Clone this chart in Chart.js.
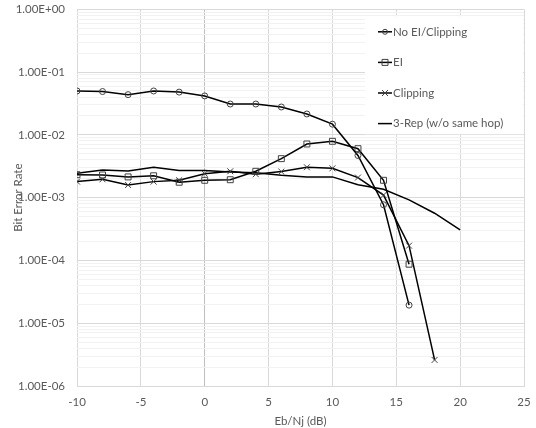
<!DOCTYPE html>
<html><head><meta charset="utf-8">
<script src="https://cdn.jsdelivr.net/npm/chart.js@4/dist/chart.umd.min.js"></script>
<style>html,body{margin:0;padding:0;background:#fff}#wrap{width:536px;height:428px}</style>
</head><body><div id="wrap"><canvas id="c" width="536" height="428"></canvas></div>
<script>
// ---- data ----
const xNoEI = [-10,-8,-6,-4,-2,0,2,4,6,8,10,12,14,16];
const yNoEI = [0.050,0.049,0.0437,0.050,0.048,0.0417,0.031,0.031,0.0278,0.0215,0.0148,0.0047,0.00077,0.0000194];
const xEI = [-10,-8,-6,-4,-2,0,2,4,6,8,10,12,14,16];
const yEI = [0.00232,0.0023,0.00214,0.00223,0.00176,0.00189,0.00193,0.00263,0.00418,0.00716,0.0079,0.00603,0.00189,0.000087];
const xClip = [-10,-8,-6,-4,-2,0,2,4,6,8,10,12,14,16,18];
const yClip = [0.0018,0.00196,0.00159,0.0018,0.00189,0.00241,0.00263,0.00236,0.0026,0.00305,0.00293,0.00209,0.0011,0.000172,0.0000026];
const xRep = [-10,-8,-6,-4,-2,0,2,4,6,8,10,12,14,16,18,20];
const yRep = [0.00245,0.00276,0.00266,0.00305,0.0027,0.0027,0.00257,0.0025,0.00227,0.00214,0.00214,0.00161,0.00136,0.00092,0.000565,0.000306];
const seriesNames = ['No EI/Clipping','EI','Clipping','3-Rep (w/o same hop)'];
const yDecades = [1e-6,1e-5,1e-4,1e-3,1e-2,1e-1,1];
const yTickLabels = ['1.00E-06','1.00E-05','1.00E-04','1.00E-03','1.00E-02','1.00E-01','1.00E+00'];
const xTitle = 'Eb/Nj (dB)';
const yTitle = 'Bit Error Rate';

const FONT = 'Lato';
const FS = 11.5;
const TXT = '#595959';
const pts = (xs, ys) => xs.map((x, i) => ({x, y: ys[i]}));
const isDecade = v => Math.abs(Math.log10(v) - Math.round(Math.log10(v))) < 1e-9;
const noAutoPad = s => { s.paddingTop = 0; s.paddingBottom = 0; s.paddingLeft = 0; s.paddingRight = 0; };

function mkDs(label, data, style, radius) {
  return {
    label, data,
    borderColor: '#000', borderWidth: 1.5, tension: 0,
    pointStyle: style || false, pointRadius: style ? radius : 0,
    pointBorderColor: '#404040', pointBackgroundColor: 'rgba(0,0,0,0)', pointBorderWidth: 1,
    pointHoverRadius: style ? radius : 0
  };
}

const insideLegend = {
  id: 'insideLegend',
  afterDraw(chart) {
    const ctx = chart.ctx, ca = chart.chartArea;
    const bx = ca.right - 159, by = ca.top + 7;
    ctx.save();
    ctx.fillStyle = '#fff';
    ctx.fillRect(bx, by, 158, 118);
    chart.data.datasets.forEach((ds, i) => {
      const y = by + 15.5 + i * 30.6;
      const lx = bx + 13;
      ctx.strokeStyle = '#000'; ctx.lineWidth = 1.5;
      ctx.beginPath(); ctx.moveTo(lx, y); ctx.lineTo(lx + 14, y); ctx.stroke();
      const cx = lx + 7;
      ctx.strokeStyle = '#404040'; ctx.lineWidth = 1;
      ctx.beginPath();
      if (ds.pointStyle === 'circle') { ctx.arc(cx, y, 2.5, 0, Math.PI * 2); ctx.stroke(); }
      else if (ds.pointStyle === 'rect') { ctx.rect(cx - 3, y - 3, 6, 6); ctx.stroke(); }
      else if (ds.pointStyle === 'crossRot') {
        ctx.moveTo(cx - 3, y - 3); ctx.lineTo(cx + 3, y + 3);
        ctx.moveTo(cx + 3, y - 3); ctx.lineTo(cx - 3, y + 3); ctx.stroke();
      }
      ctx.fillStyle = TXT;
      ctx.font = FS + 'px ' + FONT;
      ctx.textBaseline = 'middle';
      ctx.textAlign = 'left';
      ctx.fillText(ds.label, lx + 15, y);
    });
    ctx.restore();
  }
};

new Chart(document.getElementById('c'), {
  type: 'line',
  data: {
    datasets: [
      mkDs(seriesNames[0], pts(xNoEI, yNoEI), 'circle', 3),
      mkDs(seriesNames[1], pts(xEI, yEI), 'rect', 4.2),
      mkDs(seriesNames[2], pts(xClip, yClip), 'crossRot', 4.2),
      mkDs(seriesNames[3], pts(xRep, yRep), false, 0)
    ]
  },
  options: {
    responsive: false, animation: false,
    layout: { padding: { top: 9.3, right: 12, left: 0, bottom: 0 } },
    plugins: { legend: { display: false }, tooltip: { enabled: false } },
    scales: {
      x: {
        type: 'linear', min: -10, max: 25,
        ticks: { stepSize: 5, color: TXT, font: { family: FONT, size: FS }, padding: 9 },
        grid: { drawTicks: false, color: c => (c.tick && c.tick.value === 0) ? '#bfbfbf' : '#d9d9d9', lineWidth: 1 },
        border: { color: '#d9d9d9' },
        title: { display: true, text: xTitle, color: TXT, font: { family: FONT, size: FS }, padding: { top: 2, bottom: 0 } },
        afterFit(s) { s.height = 42; noAutoPad(s); }
      },
      y: {
        type: 'logarithmic', min: 1e-6, max: 1,
        afterBuildTicks(s) {
          const t = [];
          for (let d = 0; d < yDecades.length; d++) {
            t.push({ value: yDecades[d] });
            if (d < yDecades.length - 1) for (let k = 2; k <= 9; k++) t.push({ value: yDecades[d] * k });
          }
          s.ticks = t;
        },
        ticks: {
          autoSkip: false, color: TXT, font: { family: FONT, size: FS }, padding: 12,
          callback: v => isDecade(v) ? yTickLabels[Math.round(Math.log10(v)) + 6] : ''
        },
        grid: { drawTicks: false, color: c => (c.tick && isDecade(c.tick.value)) ? '#d9d9d9' : '#f2f2f2', lineWidth: 1 },
        border: { display: false },
        title: { display: true, text: yTitle, color: TXT, font: { family: FONT, size: FS }, padding: { top: 11, bottom: 0 } },
        afterFit(s) { s.width = 77; noAutoPad(s); }
      }
    }
  },
  plugins: [insideLegend]
});
</script></body></html>
